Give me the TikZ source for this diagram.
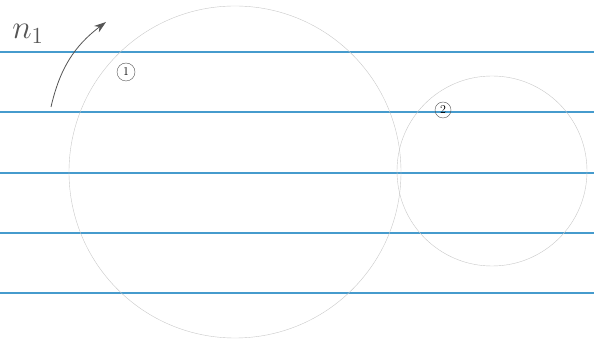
\documentclass[tikz,border=0pt]{standalone}
\usetikzlibrary{arrows.meta}
\definecolor{ruleblue}{RGB}{70,155,205}
\definecolor{pencil}{RGB}{200,200,200}
\definecolor{ink}{RGB}{85,85,85}
\begin{document}
\begin{tikzpicture}
  [x=1pt,y=-1pt,every node/.style={circle,draw=ink,thin,inner sep=0pt}]
  \useasboundingbox (0,0) rectangle (594,344);
  \foreach \y in {52,112,173,233,293}
    \draw[ruleblue,line width=1.2pt] (0,\y) -- (594,\y);

  \node[draw=pencil,minimum size=332pt] (c1) at (235,172) {};
  \node[draw=pencil,minimum size=190pt] (c2) at (492,171) {};
  \node[minimum size=18pt,font=\large] (l1) at (126,72) {1};
  \node[minimum size=16pt,font=\large] (l2) at (443,110) {2};

  \node[draw=none,font=\huge,text=ink,scale=1.6] (n1) at (28,34) {$n_1$};
  \coordinate (a0) at (51,107);
  \coordinate (a1) at (106,22);
  \draw[ink,thick,-{Stealth[length=12pt,width=8pt]}] (a0) to[bend left=20] (a1);
\end{tikzpicture}
\end{document}
